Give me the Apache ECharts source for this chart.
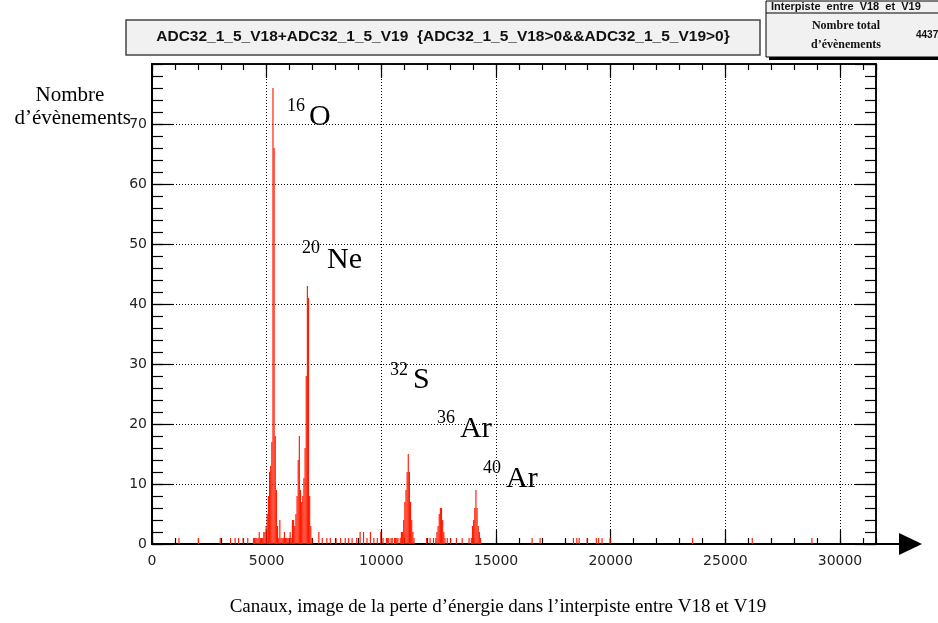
<!DOCTYPE html>
<html><head><meta charset="utf-8">
<script src="https://cdn.jsdelivr.net/npm/echarts@6/dist/echarts.min.js"></script>
<style>html,body{margin:0;padding:0;background:#fff}#c{width:938px;height:623px}</style>
</head><body><div id="c"></div>
<script>
// Histogram bins (bin start channel, width BIN) with non-zero counts
const BIN = 50;
const bgLowChannels   = [1150, 2000, 2950, 3400, 3600, 3750, 3950, 4150, 4400, 4450, 4500, 4550, 4600, 4650, 4700, 4750, 4800, 4850, 4900];
const bgLowCounts     = [1, 1, 1, 1, 1, 1, 1, 1, 1, 1, 1, 1, 1, 2, 1, 1, 1, 2, 2];
const oxygenChannels  = [4950, 5000, 5050, 5100, 5150, 5200, 5250, 5300, 5350, 5400, 5450, 5500];
const oxygenCounts    = [3, 5, 8, 12, 13, 17, 76, 66, 18, 9, 3, 1];
const gapOneChannels  = [5550, 5600, 5650, 5700, 5750, 5800, 5850, 5900, 5950, 6000, 6050, 6100];
const gapOneCounts    = [4, 1, 1, 1, 2, 1, 1, 1, 1, 2, 1, 4];
const neonChannels    = [6150, 6200, 6250, 6300, 6350, 6400, 6450, 6500, 6550, 6600, 6650, 6700, 6750, 6800, 6850, 6900, 6950];
const neonCounts      = [4, 3, 5, 8, 14, 18, 9, 7, 8, 11, 16, 28, 43, 41, 8, 3, 1];
const gapTwoChannels  = [7250, 7400, 7600, 7750, 8000, 8200, 8400, 8550, 8700, 8900, 9050, 9200, 9350, 9500, 9650, 9800, 9950, 10050, 10200, 10250, 10300, 10400, 10450, 10550, 10600, 10650, 10700, 10800];
const gapTwoCounts    = [2, 1, 1, 1, 1, 1, 1, 1, 1, 1, 2, 2, 1, 2, 1, 1, 2, 1, 1, 1, 1, 1, 1, 1, 1, 1, 1, 1];
const sulfurChannels  = [10850, 10900, 10950, 11000, 11050, 11100, 11150, 11200, 11250, 11300, 11350, 11400];
const sulfurCounts    = [2, 2, 4, 7, 9, 12, 15, 12, 7, 4, 2, 1];
const gapThreeChannels= [11950, 12100, 12250, 12350];
const gapThreeCounts  = [1, 1, 1, 1];
const ar36Channels    = [12400, 12450, 12500, 12550, 12600, 12650, 12700, 12750];
const ar36Counts      = [2, 3, 5, 6, 6, 4, 2, 1];
const gapFourChannels = [12850, 13000, 13250, 13500, 13800];
const gapFourCounts   = [1, 1, 1, 1, 1];
const ar40Channels    = [13900, 13950, 14000, 14050, 14100, 14150, 14200, 14250, 14300];
const ar40Counts      = [1, 3, 4, 6, 9, 6, 3, 2, 1];
const bgHighChannels  = [16550, 16900, 18350, 18500, 18600, 18950, 19350, 19450, 19600, 19950, 23550, 26150, 28750];
const bgHighCounts    = [1, 1, 1, 1, 1, 1, 1, 1, 1, 1, 1, 1, 1];

const X_MAX = 31570, X_MAJOR = 5000, X_MINOR = 1000;
const Y_MAX = 80, Y_MAJOR = 10, Y_MINOR = 2;

const chSets = [bgLowChannels, oxygenChannels, gapOneChannels, neonChannels, gapTwoChannels, sulfurChannels, gapThreeChannels, ar36Channels, gapFourChannels, ar40Channels, bgHighChannels];
const ctSets = [bgLowCounts, oxygenCounts, gapOneCounts, neonCounts, gapTwoCounts, sulfurCounts, gapThreeCounts, ar36Counts, gapFourCounts, ar40Counts, bgHighCounts];
const histData = [];
chSets.forEach((chs, k) => chs.forEach((c, i) => histData.push([c, ctSets[k][i]])));

const chart = echarts.init(document.getElementById('c'), null, {renderer: 'canvas'});
const black = '#000';
const dots = {type: [1, 2], color: '#000', width: 1};
const plain = v => String(v);

function xAx(pos, interval, tickLen, withLabels, split) {
  return {
    type: 'value', position: pos, min: 0, max: X_MAX, interval: interval,
    axisLine: {show: true, onZero: false, lineStyle: {color: black, width: pos === 'bottom' ? 2 : 1.5}},
    axisTick: {show: true, inside: true, length: tickLen, lineStyle: {color: black, width: 1.2}},
    axisLabel: {show: withLabels, showMaxLabel: false, formatter: plain, fontFamily: 'DejaVu Sans', fontSize: 14, color: '#222', margin: 10},
    splitLine: {show: split, lineStyle: dots}
  };
}
function yAx(pos, interval, tickLen, withLabels, split) {
  return {
    type: 'value', position: pos, min: 0, max: Y_MAX, interval: interval,
    axisLine: {show: true, onZero: false, lineStyle: {color: black, width: pos === 'left' ? 2 : 1.5}},
    axisTick: {show: true, inside: true, length: tickLen, lineStyle: {color: black, width: 1.2}},
    axisLabel: {show: withLabels, showMaxLabel: false, formatter: plain, fontFamily: 'DejaVu Sans', fontSize: 14, color: '#222', margin: 5},
    splitLine: {show: split, lineStyle: dots}
  };
}

const option = {
  animation: false,
  backgroundColor: '#fff',
  grid: {left: 152, right: 62, top: 64, bottom: 79, containLabel: false},
  xAxis: [
    xAx('bottom', X_MAJOR, 14, true, true),
    xAx('bottom', X_MINOR, 6, false, false),
    xAx('top', X_MAJOR, 14, false, false),
    xAx('top', X_MINOR, 6, false, false)
  ],
  yAxis: [
    yAx('left', Y_MAJOR, 21, true, true),
    yAx('left', Y_MINOR, 11, false, false),
    yAx('right', Y_MAJOR, 21, false, false),
    yAx('right', Y_MINOR, 11, false, false)
  ],
  series: [{
    type: 'custom',
    xAxisIndex: 0, yAxisIndex: 0,
    clip: true,
    data: histData,
    renderItem: function (params, api) {
      const x0 = api.value(0), c = api.value(1);
      const p0 = api.coord([x0, 0]);
      const p1 = api.coord([x0 + BIN, c]);
      return {
        type: 'rect',
        shape: {x: p0[0], y: p1[1], width: Math.max(p1[0] - p0[0], 1), height: p0[1] - p1[1]},
        style: {fill: '#ff1a00', stroke: null}
      };
    }
  }],
  graphic: [
    // title box
    {type: 'rect', shape: {x: 126, y: 20, width: 634, height: 35}, style: {fill: '#f1f1f1', stroke: '#444', lineWidth: 1.5}, z: 10},
    {type: 'text', x: 443, y: 37, style: {text: 'ADC32_1_5_V18+ADC32_1_5_V19  {ADC32_1_5_V18>0&&ADC32_1_5_V19>0}', font: 'bold 15.5px "Liberation Sans"', fill: '#111', align: 'center', verticalAlign: 'middle'}, z: 11},
    // stats box
    {type: 'rect', shape: {x: 769, y: 4, width: 200, height: 56}, style: {fill: '#000'}, z: 10},
    {type: 'rect', shape: {x: 766, y: 1, width: 200, height: 56}, style: {fill: '#f1f1f1', stroke: '#000', lineWidth: 1}, z: 11},
    {type: 'line', shape: {x1: 766, y1: 13, x2: 938, y2: 13}, style: {stroke: '#000', lineWidth: 1}, z: 12},
    {type: 'text', x: 771, y: 7, style: {text: 'Interpiste  entre  V18  et  V19', font: 'bold 11px "Liberation Sans"', fill: '#111', align: 'left', verticalAlign: 'middle'}, z: 12},
    {type: 'text', x: 846, y: 26, style: {text: 'Nombre total', font: 'bold 12px "Liberation Serif"', fill: '#111', align: 'center', verticalAlign: 'middle'}, z: 12},
    {type: 'text', x: 846, y: 45, style: {text: 'd\u2019\u00e9v\u00e8nements', font: 'bold 12px "Liberation Serif"', fill: '#111', align: 'center', verticalAlign: 'middle'}, z: 12},
    {type: 'text', x: 916, y: 35, style: {text: '4437', font: 'bold 10px "Liberation Sans"', fill: '#111', align: 'left', verticalAlign: 'middle'}, z: 12},
    // y title
    {type: 'text', x: 70, y: 95, style: {text: 'Nombre', font: '21px "Liberation Serif"', fill: '#000', align: 'center', verticalAlign: 'middle'}, z: 12},
    {type: 'text', x: 131, y: 118, style: {text: 'd\u2019\u00e9v\u00e8nements', font: '21px "Liberation Serif"', fill: '#000', align: 'right', verticalAlign: 'middle'}, z: 12},
    // x title
    {type: 'text', x: 498, y: 607, style: {text: 'Canaux, image de la perte d\u2019\u00e9nergie dans l\u2019interpiste entre V18 et V19', font: '19px "Liberation Serif"', fill: '#000', align: 'center', verticalAlign: 'middle'}, z: 12},
    // arrow
    {type: 'line', shape: {x1: 876, y1: 544, x2: 902, y2: 544}, style: {stroke: '#000', lineWidth: 2}, z: 12},
    {type: 'polygon', shape: {points: [[899, 533], [922, 544], [899, 555]]}, style: {fill: '#000'}, z: 12},
    // isotope annotations
    {type: 'text', x: 287, y: 106, style: {text: '16', font: '18px "Liberation Serif"', fill: '#000', verticalAlign: 'middle'}, z: 12},
    {type: 'text', x: 309, y: 117, style: {text: 'O', font: '30px "Liberation Serif"', fill: '#000', verticalAlign: 'middle'}, z: 12},
    {type: 'text', x: 302, y: 248, style: {text: '20', font: '18px "Liberation Serif"', fill: '#000', verticalAlign: 'middle'}, z: 12},
    {type: 'text', x: 327, y: 260, style: {text: 'Ne', font: '30px "Liberation Serif"', fill: '#000', verticalAlign: 'middle'}, z: 12},
    {type: 'text', x: 390, y: 370, style: {text: '32', font: '18px "Liberation Serif"', fill: '#000', verticalAlign: 'middle'}, z: 12},
    {type: 'text', x: 413, y: 380, style: {text: 'S', font: '30px "Liberation Serif"', fill: '#000', verticalAlign: 'middle'}, z: 12},
    {type: 'text', x: 437, y: 418, style: {text: '36', font: '18px "Liberation Serif"', fill: '#000', verticalAlign: 'middle'}, z: 12},
    {type: 'text', x: 460, y: 429, style: {text: 'Ar', font: '30px "Liberation Serif"', fill: '#000', verticalAlign: 'middle'}, z: 12},
    {type: 'text', x: 483, y: 468, style: {text: '40', font: '18px "Liberation Serif"', fill: '#000', verticalAlign: 'middle'}, z: 12},
    {type: 'text', x: 506, y: 479, style: {text: 'Ar', font: '30px "Liberation Serif"', fill: '#000', verticalAlign: 'middle'}, z: 12}
  ]
};
chart.setOption(option);
</script>
</body></html>
